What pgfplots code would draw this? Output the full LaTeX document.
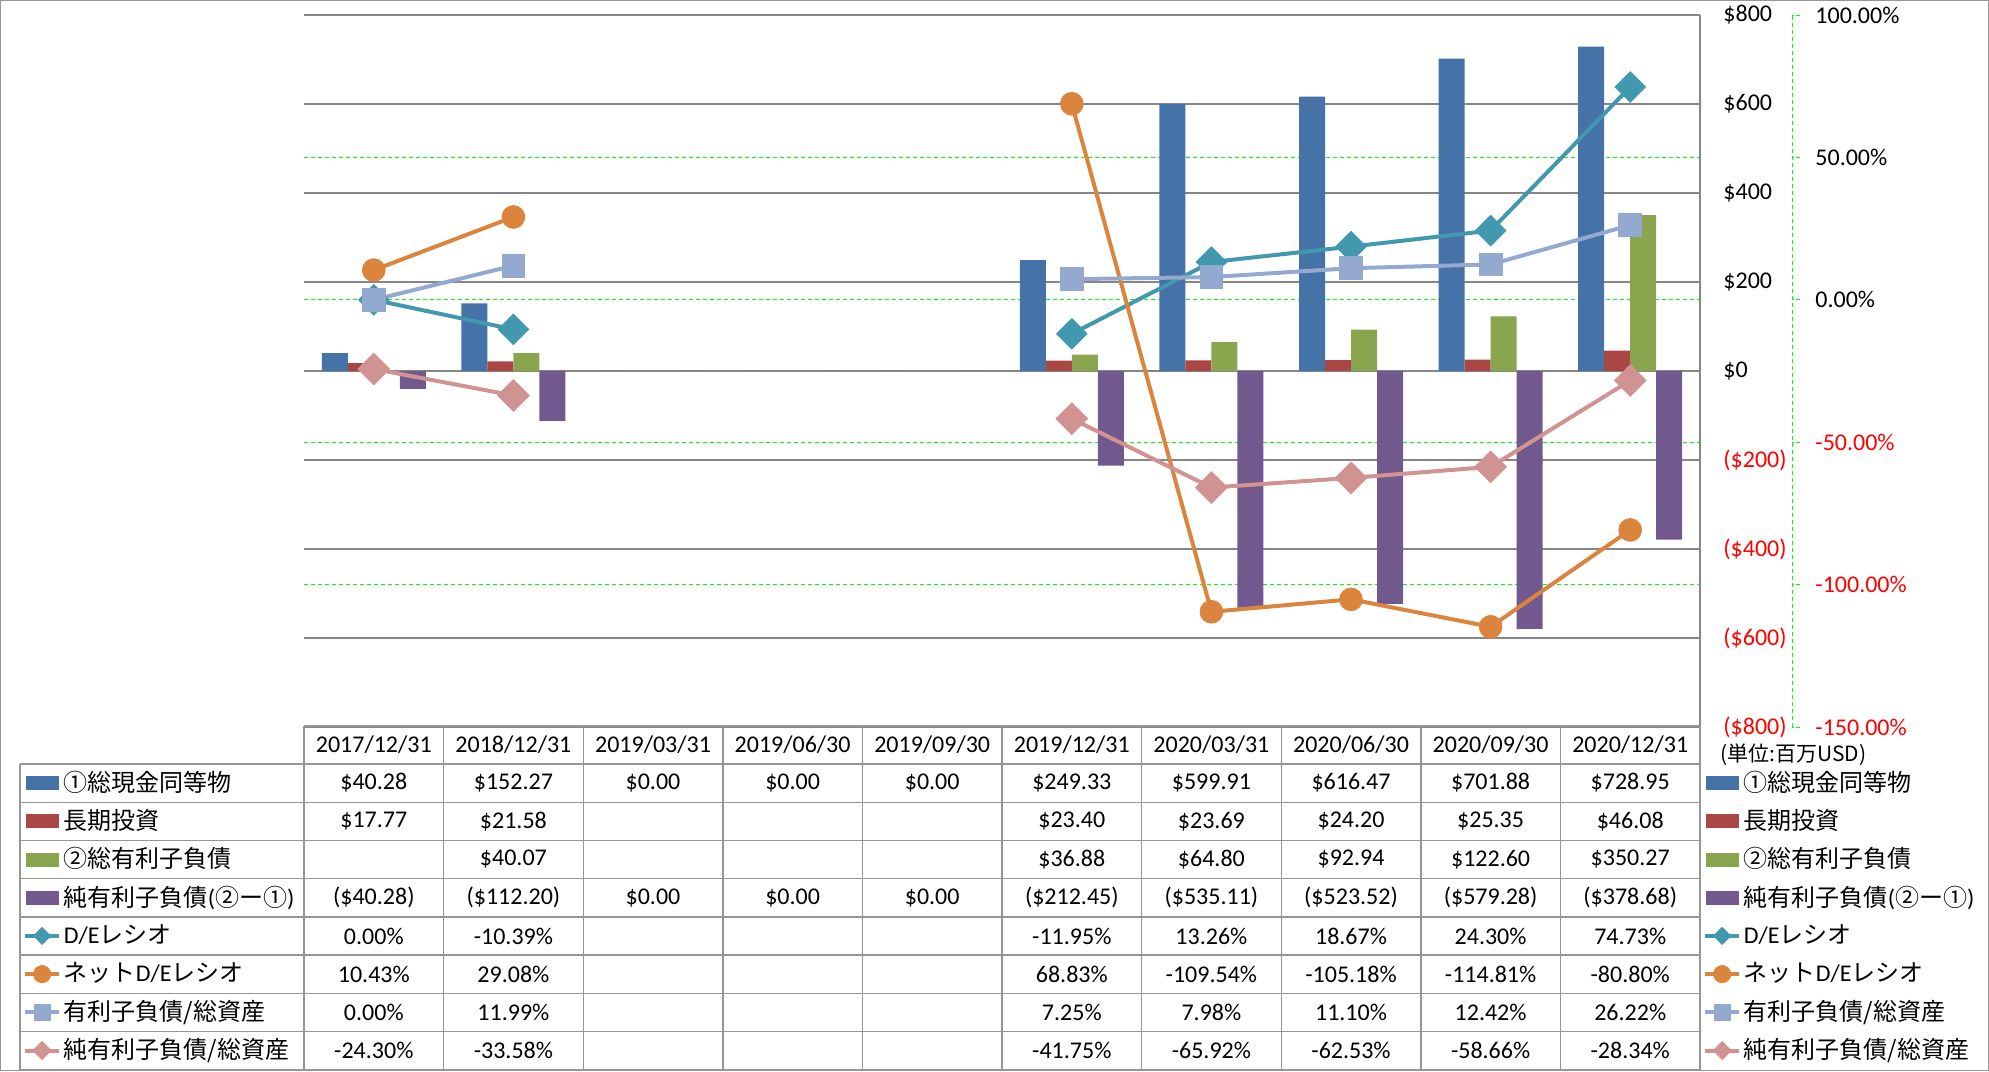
\documentclass[border=0pt]{standalone}
\usepackage{pgfplots}
\pgfplotsset{compat=1.18}
\usepackage{fontspec}
\setmainfont{Carlito}
\newfontfamily\jp{Noto Sans CJK JP}
\definecolor{cBlue}{RGB}{69,114,167}
\definecolor{cRed}{RGB}{170,70,67}
\definecolor{cGreen}{RGB}{137,165,78}
\definecolor{cPurple}{RGB}{113,88,143}
\definecolor{cTeal}{RGB}{65,152,175}
\definecolor{cOrange}{RGB}{219,132,61}
\definecolor{cLBlue}{RGB}{147,169,207}
\definecolor{cPink}{RGB}{209,147,146}
\definecolor{cGrid}{RGB}{134,134,134}
\definecolor{cTab}{RGB}{150,150,150}
\definecolor{cLime}{RGB}{0,255,0}
\definecolor{cNeg}{RGB}{255,0,0}
\pgfplotsset{
  sDE/.style={color=cTeal, line width=2pt, mark=square*, mark options={rotate=45, solid, line width=0.4pt}},
  sNDE/.style={color=cOrange, line width=2pt, mark=*, mark options={solid, line width=0.4pt}},
  sDA/.style={color=cLBlue, line width=2pt, mark=square*, mark options={solid, line width=0.4pt, rounded corners=1.5pt}},
  sNDA/.style={color=cPink, line width=2pt, mark=square*, mark options={rotate=45, solid, line width=0.4pt}},
  legaxis/.style={at={(0pt,0pt)}, anchor=north west, scale only axis, width=994.5pt, height=535.5pt,
    xmin=0, xmax=1, ymin=0, ymax=1, hide axis, legend cell align=left,
    legend style={anchor=north west, draw=none, fill=none, inner sep=0pt, outer sep=0pt, row sep=0pt, column sep=1.3pt,
      nodes={inner sep=0pt, minimum height=19.1pt}, font=\fontsize{12}{14.4}\selectfont}},
}
\newcommand\trow[2]{\foreach \v [count=\i from 0] in {#2} \node[inner sep=0pt] at ({152pt+69.8pt*(\i+0.5)},{-382pt-19.1pt*(#1-0.5)}) {\v};}
\newcommand\legitems{%
  \addlegendimage{legend image code/.code={\fill[cBlue] (0.5pt,-3.25pt) rectangle (16.5pt,3.25pt);}}
  \addlegendentry{\jp ①総現金同等物}
  \addlegendimage{legend image code/.code={\fill[cRed] (0.5pt,-3.25pt) rectangle (16.5pt,3.25pt);}}
  \addlegendentry{\jp 長期投資}
  \addlegendimage{legend image code/.code={\fill[cGreen] (0.5pt,-3.25pt) rectangle (16.5pt,3.25pt);}}
  \addlegendentry{\jp ②総有利子負債}
  \addlegendimage{legend image code/.code={\fill[cPurple] (0.5pt,-3.25pt) rectangle (16.5pt,3.25pt);}}
  \addlegendentry{{\jp 純有利子負債}({\jp ②ー①})}
  \addlegendimage{sDE, mark size=3pt}
  \addlegendentry{D/E{\jp レシオ}}
  \addlegendimage{sNDE, mark size=4.3pt}
  \addlegendentry{{\jp ネット}D/E{\jp レシオ}}
  \addlegendimage{sDA, mark size=4pt}
  \addlegendentry{\jp 有利子負債/総資産}
  \addlegendimage{sNDA, mark size=3.2pt}
  \addlegendentry{\jp 純有利子負債/総資産}
}
\begin{document}
\fontsize{12}{14.4}\selectfont
\begin{tikzpicture}[font=\fontsize{12}{14.4}\selectfont]
\path[use as bounding box] (0,0) rectangle (994.5pt,-535.5pt);
% bars ($ axis)
\begin{axis}[
  at={(152pt,-7.5pt)}, anchor=north west,
  scale only axis, width=698pt, height=356pt,
  xmin=-0.5, xmax=9.5, ymin=-800, ymax=800,
  axis x line=none, axis y line*=right,
  y axis line style={cGrid, line width=0.7pt, -},
  xtick=\empty,
  ytick={-800,-600,...,800},
  yticklabels={\textcolor{cNeg}{(\$800)},\textcolor{cNeg}{(\$600)},\textcolor{cNeg}{(\$400)},\textcolor{cNeg}{(\$200)},\$0,\$200,\$400,\$600,\$800},
  ymajorgrids, major grid style={cGrid, line width=0.6pt},
  extra y ticks={-480,-160,160,480}, extra y tick labels={},
  extra y tick style={grid=major, major grid style={cLime, dash pattern=on 2pt off 1.5pt, line width=0.5pt}},
  major tick length=0pt,
  yticklabel style={anchor=west, inner sep=0pt, xshift=11.5pt},
]
\addplot[ybar, bar width=13pt, bar shift=-19.5pt, fill=cBlue, draw=none] coordinates {(0,40.28) (1,152.27) (2,0) (3,0) (4,0) (5,249.33) (6,599.91) (7,616.47) (8,701.88) (9,728.95)};
\addplot[ybar, bar width=13pt, bar shift=-6.5pt, fill=cRed, draw=none] coordinates {(0,17.77) (1,21.58) (5,23.40) (6,23.69) (7,24.20) (8,25.35) (9,46.08)};
\addplot[ybar, bar width=13pt, bar shift=6.5pt, fill=cGreen, draw=none] coordinates {(1,40.07) (5,36.88) (6,64.80) (7,92.94) (8,122.60) (9,350.27)};
\addplot[ybar, bar width=13pt, bar shift=19.5pt, fill=cPurple, draw=none] coordinates {(0,-40.28) (1,-112.20) (2,0) (3,0) (4,0) (5,-212.45) (6,-535.11) (7,-523.52) (8,-579.28) (9,-378.68)};
\end{axis}
% lines (% axis)
\begin{axis}[
  at={(152pt,-7.5pt)}, anchor=north west,
  scale only axis, width=698pt, height=356pt,
  xmin=-0.5, xmax=9.5, ymin=-150, ymax=100,
  hide axis, unbounded coords=jump, clip=false,
]
\addplot[sDE, mark size=5.4pt] coordinates {(0,0.00) (1,-10.39) (2,nan) (3,nan) (4,nan) (5,-11.95) (6,13.26) (7,18.67) (8,24.30) (9,74.73)};
\addplot[sNDE, mark size=5.7pt] coordinates {(0,10.43) (1,29.08) (2,nan) (3,nan) (4,nan) (5,68.83) (6,-109.54) (7,-105.18) (8,-114.81) (9,-80.80)};
\addplot[sDA, mark size=5.7pt] coordinates {(0,0.00) (1,11.99) (2,nan) (3,nan) (4,nan) (5,7.25) (6,7.98) (7,11.10) (8,12.42) (9,26.22)};
\addplot[sNDA, mark size=5.6pt] coordinates {(0,-24.30) (1,-33.58) (2,nan) (3,nan) (4,nan) (5,-41.75) (6,-65.92) (7,-62.53) (8,-58.66) (9,-28.34)};
\end{axis}
% secondary % axis line
\begin{axis}[
  at={(896pt,-7.5pt)}, anchor=north east,
  scale only axis, width=5pt, height=356pt,
  xmin=0, xmax=1, ymin=-150, ymax=100,
  axis x line=none, axis y line*=right, xtick=\empty,
  y axis line style={cLime, dash pattern=on 2pt off 1.5pt, line width=0.5pt, -},
  ytick={-150,-100,...,100},
  yticklabels={\textcolor{cNeg}{-150.00\%},\textcolor{cNeg}{-100.00\%},\textcolor{cNeg}{-50.00\%},0.00\%,50.00\%,100.00\%},
  tick align=outside, major tick length=4pt,
  ytick style={cLime, line width=0.5pt, dash pattern=on 2pt off 1pt},
  yticklabel style={anchor=west, inner sep=0pt, xshift=7.5pt},
]
\end{axis}
% table grid
\begin{scope}[cTab, line width=0.7pt]
  \draw (152pt,-363pt) -- (850pt,-363pt);
  \foreach \k in {0,...,8} \draw (10pt,{-382pt-19.1pt*\k}) -- (850pt,{-382pt-19.1pt*\k});
  \draw (10pt,-382pt) -- (10pt,-534.8pt);
  \foreach \i in {0,...,10} \draw ({152pt+69.8pt*\i},-363pt) -- ({152pt+69.8pt*\i},-534.8pt);
\end{scope}
\draw[cTab, line width=0.7pt] (0.35pt,-0.35pt) rectangle (994.15pt,-535.15pt);
% header
\foreach \d [count=\i from 0] in {2017/12/31,2018/12/31,2019/03/31,2019/06/30,2019/09/30,2019/12/31,2020/03/31,2020/06/30,2020/09/30,2020/12/31}
  \node[inner sep=0pt] at ({152pt+69.8pt*(\i+0.5)},-372.5pt) {\d};
\trow{1}{\$40.28,\$152.27,\$0.00,\$0.00,\$0.00,\$249.33,\$599.91,\$616.47,\$701.88,\$728.95}
\trow{2}{\$17.77,\$21.58,{},{},{},\$23.40,\$23.69,\$24.20,\$25.35,\$46.08}
\trow{3}{{},\$40.07,{},{},{},\$36.88,\$64.80,\$92.94,\$122.60,\$350.27}
\trow{4}{{(\$40.28)},{(\$112.20)},\$0.00,\$0.00,\$0.00,{(\$212.45)},{(\$535.11)},{(\$523.52)},{(\$579.28)},{(\$378.68)}}
\trow{5}{0.00\%,-10.39\%,{},{},{},-11.95\%,13.26\%,18.67\%,24.30\%,74.73\%}
\trow{6}{10.43\%,29.08\%,{},{},{},68.83\%,-109.54\%,-105.18\%,-114.81\%,-80.80\%}
\trow{7}{0.00\%,11.99\%,{},{},{},7.25\%,7.98\%,11.10\%,12.42\%,26.22\%}
\trow{8}{-24.30\%,-33.58\%,{},{},{},-41.75\%,-65.92\%,-62.53\%,-58.66\%,-28.34\%}
\node[anchor=west, inner sep=0pt, font=\jp\fontsize{10.5}{12}\selectfont] at (860pt,-377.5pt) {(単位:百万USD)};
% legends
\begin{axis}[legaxis, legend style={at={(0.011564,0.28665)}}]
\legitems
\end{axis}
\begin{axis}[legaxis, legend style={at={(0.85621,0.28665)}}]
\legitems
\end{axis}
\end{tikzpicture}
\end{document}
